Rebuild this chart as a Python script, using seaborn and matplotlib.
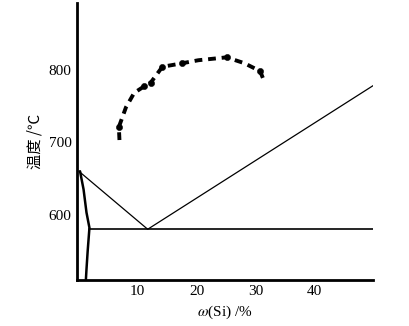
import numpy as np
import pandas as pd
import seaborn as sns
import matplotlib.pyplot as plt

sns.set_theme(style="white")
plt.rcParams['font.family'] = ['Liberation Serif', 'DejaVu Serif']
plt.rcParams['mathtext.fontset'] = 'stix'
plt.rcParams['text.color'] = 'black'
plt.rcParams['axes.labelcolor'] = 'black'
plt.rcParams['xtick.color'] = 'black'
plt.rcParams['ytick.color'] = 'black'

# phase diagram lines (w(Si) %, temperature C)
liq_x = [0, 11.7, 50]
liq_t = [660, 580, 778]
eut_x = [1.8, 50]
eut_t = [580, 580]
solvus_x = [0.2, 0.8, 1.3, 1.8, 1.5, 1.3, 1.2]
solvus_t = [660, 635, 603, 582, 550, 525, 511]

# measured curve
meas_x = [6.9, 6.8, 8.0, 9.4, 11.1, 12.2, 14.2, 17.0, 20.3, 25.1, 28.1, 30.8, 31.5]
meas_t = [703, 721, 748, 768, 777, 782, 804, 808, 813, 817, 809, 798, 784]
pt_x = [6.8, 11.1, 12.2, 14.2, 17.5, 25.1, 30.8]
pt_t = [721, 777, 782, 804, 809, 817, 798]

x_ticks = [10, 20, 30, 40]
y_ticks = [600, 700, 800]

fig = plt.figure(figsize=(4.1, 3.26), dpi=100)
ax = fig.add_axes([0.188, 0.141, 0.722, 0.85])

kw = dict(ax=ax, color="black", sort=False, estimator=None)
sns.lineplot(x=liq_x, y=liq_t, lw=0.9, **kw)
sns.lineplot(x=eut_x, y=eut_t, lw=1.2, **kw)
sns.lineplot(x=solvus_x, y=solvus_t, lw=1.8, **kw)
sns.lineplot(x=meas_x, y=meas_t, lw=2.8, linestyle=(0, (2.0, 1.5)), **kw)
sns.scatterplot(x=pt_x, y=pt_t, ax=ax, color="black", s=20, edgecolor="black")

ax.set_xlim(-0.3, 50)
ax.set_ylim(510, 892)
ax.set_xticks(x_ticks)
ax.set_yticks(y_ticks)
ax.tick_params(direction="in", length=7, width=2, labelsize=11)
ax.tick_params(axis="y", pad=4)
for s in ["top", "right"]:
    ax.spines[s].set_visible(False)
for s in ["left", "bottom"]:
    ax.spines[s].set_color("black")
    ax.spines[s].set_linewidth(2)

ax.set_xlabel(r"$\omega$(Si) /%", fontsize=11)
ax.set_ylabel("温度 /℃", fontsize=11, family=['Noto Sans CJK SC', 'DejaVu Sans'])

fig.savefig("out.png", dpi=100)
